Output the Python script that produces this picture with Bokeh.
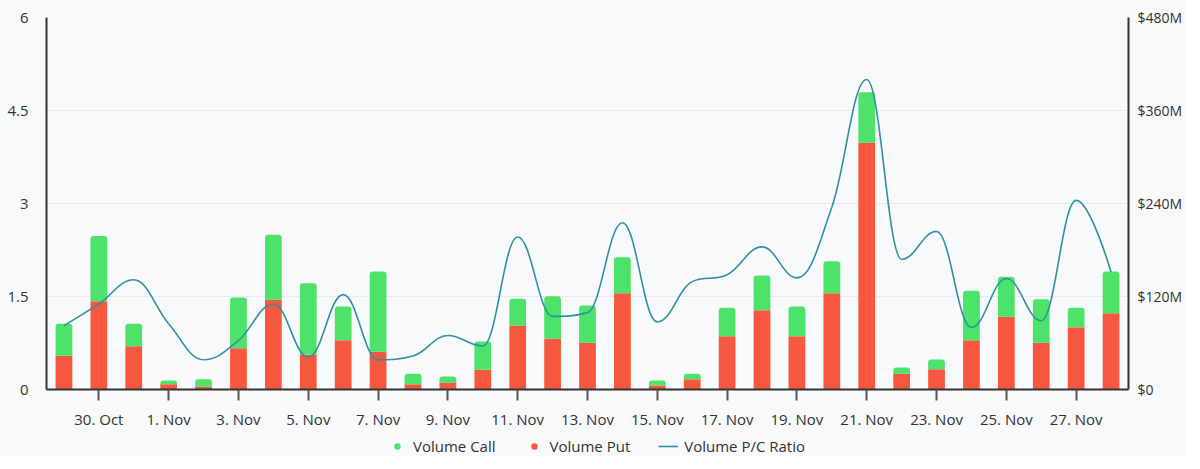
import numpy as np
from bokeh.plotting import figure
from bokeh.layouts import column
from bokeh.models import (Range1d, LinearAxis, FixedTicker, Legend, LegendItem,
                          ColumnDataSource)
from bokeh.embed import file_html
from bokeh.resources import INLINE

dates = ["29. Oct", "30. Oct", "31. Oct", "1. Nov", "2. Nov", "3. Nov", "4. Nov",
         "5. Nov", "6. Nov", "7. Nov", "8. Nov", "9. Nov", "10. Nov", "11. Nov",
         "12. Nov", "13. Nov", "14. Nov", "15. Nov", "16. Nov", "17. Nov", "18. Nov",
         "19. Nov", "20. Nov", "21. Nov", "22. Nov", "23. Nov", "24. Nov", "25. Nov",
         "26. Nov", "27. Nov", "28. Nov"]

# $M
volume_put = [43.4, 114, 55.9, 6.9, 3.4, 53.3, 115.7, 45.2, 63.6, 48.6, 6.9, 8.6,
              25.4, 82.6, 65.4, 60.2, 124.3, 5.2, 13.3, 68.8, 102.3, 68.8, 124.3,
              318.3, 20.2, 26.2, 63.6, 93.8, 60.2, 80.4, 98.5]
volume_call = [41.6, 84, 29, 4.7, 9.9, 65.4, 84, 92, 43.5, 103.7, 13.3, 8.2,
               36.5, 34.4, 55, 48.2, 46.4, 6.4, 6.9, 36.6, 44.8, 38.3, 41.3,
               65.3, 8.2, 12.5, 63.7, 51.6, 56.3, 25, 53.8]
pc_ratio = [1.03, 1.38, 1.77, 1.06, 0.48, 0.79, 1.38, 0.52, 1.53, 0.48, 0.54, 0.87,
            0.70, 2.46, 1.18, 1.24, 2.69, 1.09, 1.74, 1.85, 2.30, 1.80, 2.94,
            5.0, 2.10, 2.55, 1.0, 1.79, 1.11, 3.05, 1.89]

ratio_ticks = [0, 1.5, 3, 4.5, 6]
ratio_labels = ["0", "1.5", "3", "4.5", "6"]
volume_ticks = [0, 120, 240, 360, 480]
volume_labels = ["$0", "$120M", "$240M", "$360M", "$480M"]
series_names = ["Volume Call", "Volume Put", "Volume P/C Ratio"]

GREEN = "#4de26a"
RED = "#f5583f"
LINE = "#2f8fa4"
BG = "#f8f9fb"
TXT = "#333333"
FONT = "Open Sans"

x = list(range(len(dates)))
call_top = [p + c for p, c in zip(volume_put, volume_call)]
src = ColumnDataSource(dict(x=x, put=volume_put, call_top=call_top))

p = figure(frame_width=1082, frame_height=372, output_backend="svg",
           toolbar_location=None, x_range=Range1d(-0.5, len(dates) - 0.5),
           y_range=Range1d(0, 480), y_axis_location="right",
           background_fill_color=BG, border_fill_color=BG,
           min_border_left=46, min_border_right=56, min_border_top=17,
           min_border_bottom=0)
p.outline_line_color = None
p.extra_y_ranges = {"ratio": Range1d(0, 6)}

# bars
p.vbar(x="x", bottom=0, top="put", width=0.48, source=src, fill_color=RED,
       line_color=None)
p.vbar(x="x", bottom="put", top="call_top", width=0.48, source=src,
       fill_color=GREEN, line_color=None, border_radius=(3, 3, 0, 0))

# spline (Highcharts-style smoothing) drawn with bezier glyphs
n = len(pc_ratio)
xs = np.array(x, dtype=float)
ys = np.array(pc_ratio, dtype=float)
lcx, lcy = xs.copy(), ys.copy()
rcx, rcy = xs.copy(), ys.copy()
sm = 1.5
den = sm + 1
for i in range(1, n - 1):
    px, py = xs[i], ys[i]
    lx, ly = xs[i - 1], ys[i - 1]
    nx, ny = xs[i + 1], ys[i + 1]
    l_x = (sm * px + lx) / den
    l_y = (sm * py + ly) / den
    r_x = (sm * px + nx) / den
    r_y = (sm * py + ny) / den
    corr = ((r_y - l_y) * (r_x - px)) / (r_x - l_x) + py - r_y
    l_y += corr
    r_y += corr
    if l_y > ly and l_y > py:
        l_y = max(ly, py)
        r_y = 2 * py - l_y
    elif l_y < ly and l_y < py:
        l_y = min(ly, py)
        r_y = 2 * py - l_y
    if r_y > ny and r_y > py:
        r_y = max(ny, py)
        l_y = 2 * py - r_y
    elif r_y < ny and r_y < py:
        r_y = min(ny, py)
        l_y = 2 * py - r_y
    lcx[i], lcy[i], rcx[i], rcy[i] = l_x, l_y, r_x, r_y

bz = ColumnDataSource(dict(x0=xs[:-1], y0=ys[:-1], x1=xs[1:], y1=ys[1:],
                           cx0=rcx[:-1], cy0=rcy[:-1], cx1=lcx[1:], cy1=lcy[1:]))
p.bezier(x0="x0", y0="y0", x1="x1", y1="y1", cx0="cx0", cy0="cy0", cx1="cx1",
         cy1="cy1", source=bz, line_color=LINE, line_width=1.6,
         y_range_name="ratio")

# axes
ax_r = p.yaxis[0]
ax_r.ticker = FixedTicker(ticks=volume_ticks)
ax_r.major_label_overrides = {t: l for t, l in zip(volume_ticks, volume_labels)}
ax_l = LinearAxis(y_range_name="ratio", ticker=FixedTicker(ticks=ratio_ticks))
ax_l.major_label_overrides = {t: l for t, l in zip(ratio_ticks, ratio_labels)}
p.add_layout(ax_l, "left")
for ax in (ax_r, ax_l):
    ax.axis_line_color = TXT
    ax.axis_line_width = 2
    ax.major_tick_line_color = None
    ax.minor_tick_line_color = None
    ax.major_tick_out = 0
    ax.major_tick_in = 0
    ax.major_label_text_font = FONT
    ax.major_label_text_font_size = "15px"
    ax.major_label_text_color = TXT
ax_l.major_label_standoff = 18
ax_r.major_label_text_font_size = "14px"
ax_r.major_label_standoff = 9

xa = p.xaxis[0]
xt = list(range(1, len(dates), 2))
xa.ticker = FixedTicker(ticks=xt)
xa.major_label_overrides = {i: dates[i] for i in xt}
xa.axis_line_color = TXT
xa.axis_line_width = 2
xa.major_tick_line_color = "#555555"
xa.major_tick_line_width = 2
xa.major_tick_out = 11
xa.major_tick_in = 0
xa.minor_tick_line_color = None
xa.major_label_text_font = FONT
xa.major_label_text_font_size = "15px"
xa.major_label_text_color = TXT
xa.major_label_standoff = 8

p.xgrid.grid_line_color = None
p.ygrid.ticker = FixedTicker(ticks=volume_ticks)
p.ygrid.grid_line_color = "#e8eaed"
p.ygrid.grid_line_width = 1

# legend in its own strip below the chart (swatch renderers sit outside the
# strip's visible range; only their legend glyphs are seen)
lf = figure(width=1184, height=25, output_backend="svg", toolbar_location=None,
            x_range=Range1d(0, 1), y_range=Range1d(0, 1),
            x_axis_location=None, y_axis_location=None,
            background_fill_color=BG, border_fill_color=BG, min_border=0)
lf.outline_line_color = None
lf.grid.visible = False
swatch = ColumnDataSource(dict(x=[-5.0, -6.0], y=[-5.0, -6.0]))
r_call = lf.scatter(x="x", y="y", source=swatch, marker="circle", size=13,
                    fill_color=GREEN, line_color=None)
r_put = lf.scatter(x="x", y="y", source=swatch, marker="circle", size=13,
                   fill_color=RED, line_color=None)
r_line = lf.line(x="x", y="y", source=swatch, line_color=LINE, line_width=1.6)
legend = Legend(items=[LegendItem(label=series_names[0], renderers=[r_call]),
                       LegendItem(label=series_names[1], renderers=[r_put]),
                       LegendItem(label=series_names[2], renderers=[r_line])],
                orientation="horizontal", location=(341, 0))
legend.background_fill_alpha = 0
legend.border_line_color = None
legend.label_text_font = FONT
legend.label_text_font_size = "15px"
legend.label_text_color = TXT
legend.glyph_width = 20
legend.glyph_height = 16
legend.label_standoff = 6
legend.spacing = 28
legend.padding = 1
legend.margin = 0
lf.add_layout(legend, "center")

layout = column(p, lf, spacing=0)
layout.styles = {"background-color": BG}
open("out.html", "w").write(file_html(layout, INLINE))
